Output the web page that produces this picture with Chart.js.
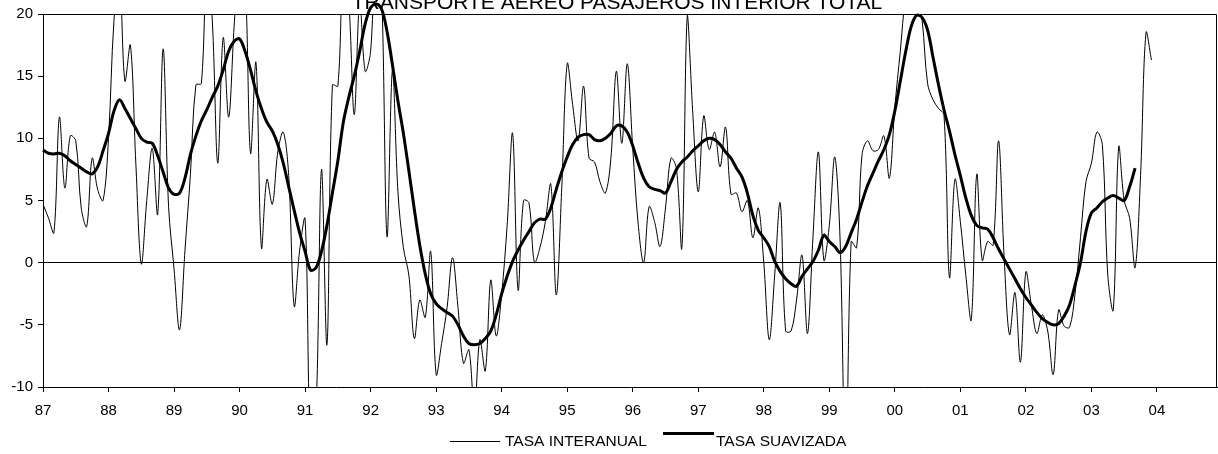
<!DOCTYPE html>
<html>
<head>
<meta charset="utf-8">
<script src="https://cdn.jsdelivr.net/npm/chart.js@4.4.1/dist/chart.umd.min.js"></script>
<style>
  html, body { margin: 0; padding: 0; background: #fff; }
  #wrap { position: relative; width: 1218px; height: 454px; }
</style>
</head>
<body>
<div id="wrap"><canvas id="c" width="1218" height="454"></canvas></div>
<script>
// ---- data (monthly, Jan 1987 onward) ----
const chartTitle = 'TRANSPORTE AEREO PASAJEROS INTERIOR TOTAL';
const seriesNames = ['TASA INTERANUAL', 'TASA SUAVIZADA'];
const yearLabels = ['87','88','89','90','91','92','93','94','95','96','97','98','99','00','01','02','03','04'];
const yTickValues = [-10, -5, 0, 5, 10, 15, 20];

const tasaInteranual = [
  4.7, 3.6, 2.4, 11.7, 6.0, 10.2, 9.8, 4.4, 2.9, 8.4, 5.9, 5.0,
  10.0, 19.5, 23, 14.6, 17.5, 8, -0.1, 5, 9.2, 3.9, 17.2, 4.5,
  -0.5, -5.4, 1, 7.1, 14.3, 14.4, 24, 19.5, 8.0, 18.1, 11.7, 19,
  25, 23, 8.8, 16.1, 1.2, 6.7, 4.7, 8.9, 10.5, 7, -3.5, 1.0,
  3.5, -15, -12, 7.5, -6.6, 14.3, 14.2, 24, 21, 11.9, 21, 15.4,
  17, 26, 22, 2.1, 15.5, 5.7, 1.2, -1.0, -6.1, -3.0, -4.4, 0.9,
  -9.0, -6.5, -3.6, 0.4, -3.6, -8.1, -7.0, -12, -6.2, -8.7, -1.4, -5.9,
  -2.5, 3, 10.4, -2.2, 5.0, 4.8, 0.0, 1.2, 3.3, 6.3, -2.6, 6,
  16.0, 12.7, 9.8, 14.2, 8.4, 8.1, 6.5, 5.6, 8.4, 15.4, 9.6, 16.0,
  9.2, 3.1, 0.0, 4.5, 3.3, 1.3, 4.4, 8.4, 7.6, 1.2, 19.9, 12,
  5.7, 11.8, 9.1, 10.5, 7.7, 10.9, 5.5, 5.6, 4.1, 5.0, 2.0, 4.4,
  0, -6.2, -1, 4.8, -5.5, -5.5, -3, 0.6, -5.7, 2, 8.9, 0.2,
  3, 8.5, 1.5, -18, 1.7, 1.2, 8.7, 9.8, 9.0, 9.1, 10.2, 6.8,
  12.5, 17, 21.5, 23, 22, 19.5, 14.4, 13.1, 12.4, 11.9, -1.2, 6.7,
  3.3, -1, -4.6, 7.1, 0.2, 1.7, 1.4, 9.8, 0.6, -5.8, -2.4, -8.0,
  -0.75, -3.4, -5.7, -4.2, -5.5, -9.0, -3.8, -5.1, -5.2, -2.5, 2.0, 6.5,
  8.0, 10.5, 9.5, -1.0, -3.8, 9.3, 5.0, 3.6, -0.4, 7, 18.5, 16.3
];

const tasaSuavizada = [
  9.05, 8.8, 8.75, 8.8, 8.6, 8.2, 7.9, 7.6, 7.3, 7.15, 7.7, 9.0,
  10.4, 12.2, 13.1, 12.4, 11.6, 10.8, 10.0, 9.7, 9.6, 8.6, 7.3, 6.0,
  5.5, 5.6, 6.8, 8.7, 10.2, 11.4, 12.3, 13.3, 14.2, 15.5, 17.0, 17.8,
  18.0, 17.0, 15.5, 13.8, 12.4, 11.3, 10.6, 9.5, 8.0, 6.1, 4.2, 2.4,
  0.9, -0.6, -0.4, 0.9, 3.0, 5.6, 8.2, 11.3, 13.3, 15.0, 17.0, 19.2,
  20.5, 20.8, 20.4, 18.6, 15.9, 13.0, 10.4, 7.4, 4.3, 1.4, -0.9, -2.5,
  -3.3, -3.7, -4.0, -4.3, -5.0, -5.9, -6.5, -6.6, -6.5, -6.1, -5.5, -4.2,
  -2.5, -1.1, 0.1, 1.0, 1.8, 2.5, 3.2, 3.5, 3.5, 4.4, 5.9, 7.3,
  8.5, 9.5, 10.1, 10.3, 10.3, 9.9, 9.8, 10.0, 10.4, 11.0, 11.0, 10.5,
  9.4, 8.0, 6.8, 6.1, 5.9, 5.8, 5.6, 6.5, 7.5, 8.1, 8.5, 9.0,
  9.4, 9.8, 10.0, 9.9, 9.5, 8.9, 8.4, 7.6, 6.9, 5.6, 3.8, 2.6,
  2.0, 1.3, 0.1, -0.7, -1.3, -1.7, -1.9, -1.1, -0.5, 0.1, 1.0, 2.2,
  1.7, 1.3, 0.8, 1.3, 2.4, 3.5, 4.9, 6.2, 7.2, 8.2, 9.1, 10.3,
  12.2, 14.6, 17.0, 19.0, 19.9, 19.7, 18.7, 16.5, 14.3, 12.3, 10.6, 8.7,
  7.0, 5.2, 3.8, 3.0, 2.8, 2.7, 2.0, 1.1, 0.3, -0.5, -1.3, -2.1,
  -2.8, -3.4, -4.0, -4.5, -4.8, -5.0, -4.9, -4.3, -3.4, -1.8, 0.0, 2.5,
  4.0, 4.4, 4.9, 5.2, 5.4, 5.2, 5.0, 6.1, 7.6
];

// ---- chart ----
const FONT = '"Liberation Sans", Arial, Helvetica, sans-serif';
const toPoints = arr => arr.map((v, i) => ({ x: i, y: v }));

const framePlugin = {
  id: 'frame',
  afterDraw(chart) {
    const { ctx, chartArea: a } = chart;
    ctx.save();
    ctx.strokeStyle = '#000';
    ctx.lineWidth = 1;
    ctx.beginPath();
    ctx.moveTo(a.left, a.top + 0.5);
    ctx.lineTo(a.right - 0.5, a.top + 0.5);
    ctx.lineTo(a.right - 0.5, a.bottom);
    ctx.stroke();

    // title (partly above the canvas, as in the source)
    ctx.fillStyle = '#000';
    ctx.font = '21px ' + FONT;
    ctx.textAlign = 'center';
    ctx.textBaseline = 'alphabetic';
    ctx.fillText(chartTitle, 617, 8.5);

    // legend
    const ds = chart.data.datasets;
    ctx.font = '15.5px ' + FONT;
    ctx.textAlign = 'left';
    ctx.textBaseline = 'middle';
    ctx.strokeStyle = ds[0].borderColor;
    ctx.lineWidth = ds[0].borderWidth;
    ctx.beginPath();
    ctx.moveTo(450, 441.5); ctx.lineTo(500, 441.5);
    ctx.stroke();
    ctx.fillText(ds[0].label, 505, 441.5);
    ctx.strokeStyle = ds[1].borderColor;
    ctx.lineWidth = ds[1].borderWidth;
    ctx.beginPath();
    ctx.moveTo(663, 433.5); ctx.lineTo(714, 433.5);
    ctx.stroke();
    ctx.fillText(ds[1].label, 716, 441.5);
    ctx.restore();
  }
};

new Chart(document.getElementById('c'), {
  type: 'line',
  data: {
    datasets: [
      {
        label: seriesNames[0],
        data: toPoints(tasaInteranual),
        borderColor: '#000',
        borderWidth: 1,
        pointRadius: 0,
        tension: 0.35,
        fill: false
      },
      {
        label: seriesNames[1],
        data: toPoints(tasaSuavizada),
        borderColor: '#000',
        borderWidth: 3,
        pointRadius: 0,
        tension: 0.35,
        fill: false,
        clip: false
      }
    ]
  },
  options: {
    responsive: false,
    animation: false,
    events: [],
    layout: { padding: { left: 0, top: 14, right: 1, bottom: 37 } },
    plugins: {
      legend: { display: false },
      title: { display: false },
      tooltip: { enabled: false }
    },
    scales: {
      x: {
        type: 'linear',
        min: 0,
        max: 215,
        afterBuildTicks: s => { s.ticks = yearLabels.map((_, i) => ({ value: i * 12 })); },
        afterFit: s => { s.height = 30; },
        ticks: {
          autoSkip: false,
          maxRotation: 0,
          padding: 10,
          color: '#000',
          font: { family: FONT, size: 15 },
          callback: v => yearLabels[Math.round(v / 12)]
        },
        grid: { drawOnChartArea: false, drawTicks: true, tickLength: 5, tickColor: '#000' },
        border: { display: true, color: '#000', width: 1 }
      },
      y: {
        type: 'linear',
        min: -10,
        max: 20,
        afterBuildTicks: s => { s.ticks = yTickValues.map(v => ({ value: v })); },
        afterFit: s => { s.width = 43; },
        ticks: {
          padding: 5,
          color: '#000',
          font: { family: FONT, size: 15 },
          callback: v => String(v)
        },
        grid: {
          drawOnChartArea: true,
          drawTicks: true,
          tickLength: 5,
          tickColor: '#000',
          color: c => (c.tick && c.tick.value === 0 ? '#000' : 'rgba(0,0,0,0)'),
          lineWidth: 1
        },
        border: { display: true, color: '#000', width: 1 }
      }
    }
  },
  plugins: [framePlugin]
});
</script>
</body>
</html>
